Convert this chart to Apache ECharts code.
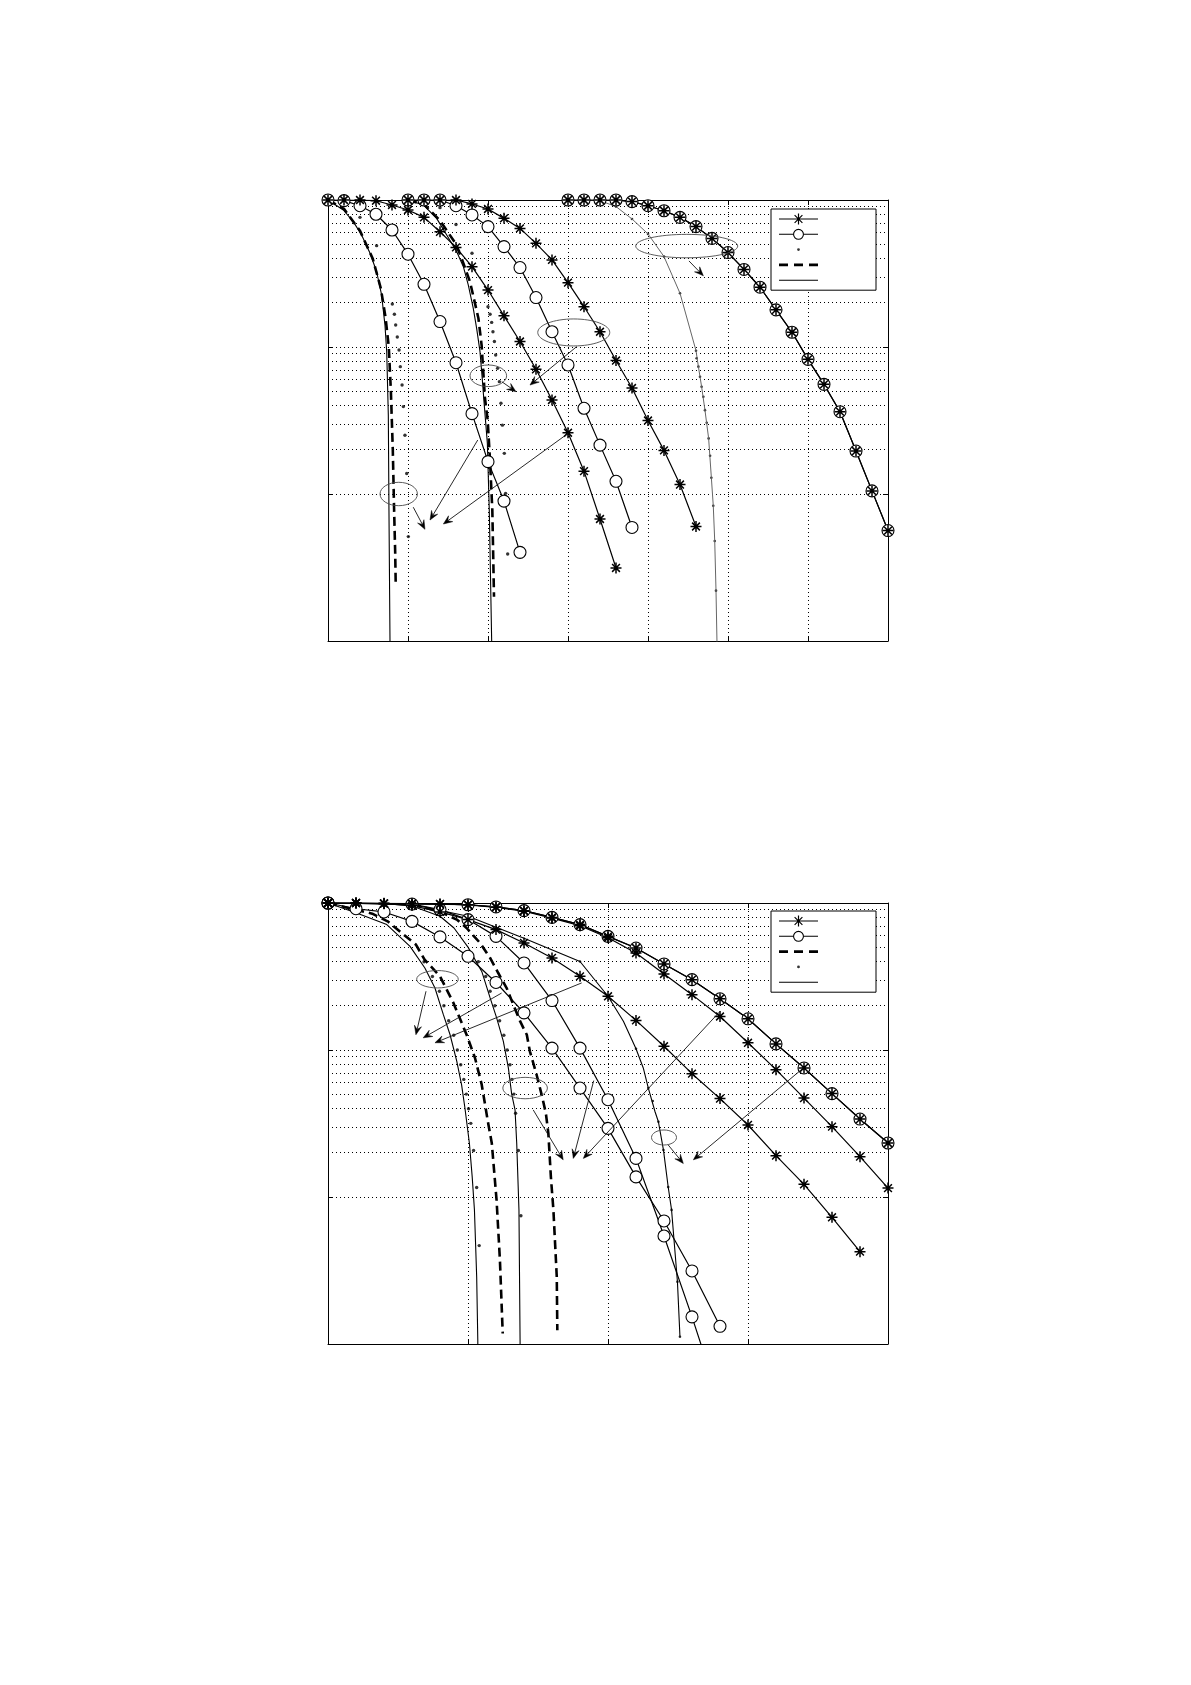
<!DOCTYPE html>
<html><head><meta charset="utf-8">
<script src="https://cdn.jsdelivr.net/npm/echarts@6/dist/echarts.min.js"></script>
<style>html,body{margin:0;padding:0;background:#fff}#c{width:1191px;height:1685px}</style>
</head><body><div id="c"></div>
<script>
// ---------------- data ----------------
// Top panel (x 0..35)
const topStarA = [[0,1],[1,1],[2,1],[3,0.989],[4,0.925],[5,0.855],[6,0.762],[7,0.608],[8,0.476],[9,0.352],[10,0.244],[11,0.163],[12,0.109],[13,0.0705],[14,0.0436],[15,0.0261],[16,0.0143],[17,0.00676],[18,0.00314]];
const topCircA = [[0,1],[1,0.99],[2,0.914],[3,0.80],[4,0.625],[5,0.428],[6,0.267],[7,0.149],[8,0.0782],[9,0.0352],[10,0.0166],[11,0.00895],[12,0.00401]];
const topDotA = [[2,0.762],[3.04,0.489],[4.02,0.196],[4.15,0.167],[4.23,0.141],[4.33,0.117],[4.44,0.0955],[4.52,0.0735],[4.63,0.0551],[4.71,0.0393],[4.81,0.0251],[4.92,0.0138],[5.02,0.00513]];
const topDashA = [[0,1],[1,0.87],[2,0.617],[2.8,0.398],[3.3,0.251],[3.6,0.158],[3.8,0.1],[3.93,0.0501],[4.05,0.02],[4.13,0.00794],[4.2,0.00398],[4.23,0.00252]];
const topSolidA = [[0,1],[0.96,0.855],[1.58,0.713],[2.1,0.578],[2.63,0.434],[3.04,0.325],[3.35,0.226],[3.56,0.141],[3.67,0.0929],[3.77,0.0344],[3.81,0.00778],[3.875,0.001],[3.9,0.0004]];

const topStarB = [[5,1],[6,1],[7,1],[8,1],[9,0.94],[10,0.869],[11,0.75],[12,0.641],[13,0.507],[14,0.391],[15,0.274],[16,0.188],[17,0.127],[18,0.0809],[19,0.0526],[20,0.0316],[21,0.0198],[22,0.0116],[23,0.00601]];
const topCircB = [[5,1],[6,1],[7,1],[8,0.914],[9,0.791],[10,0.659],[11,0.482],[12,0.347],[13,0.217],[14,0.127],[15,0.0755],[16,0.0383],[17,0.0215],[18,0.0122],[19,0.00592]];
const topDotB = [[7,0.887],[8,0.682],[9,0.434],[10,0.188],[10.13,0.167],[10.23,0.147],[10.31,0.127],[10.4,0.109],[10.48,0.0883],[10.6,0.0716],[10.71,0.0581],[10.81,0.0414],[10.9,0.0294],[11.02,0.0189],[11.1,0.0101],[11.23,0.00391]];
const topDashB = [[5,1],[6,0.933],[7,0.724],[8,0.501],[8.35,0.401],[8.875,0.278],[9.4,0.157],[9.6,0.103],[9.81,0.0448],[9.98,0.0318],[10.125,0.017],[10.27,0.00778],[10.375,0.002]];
const topSolidB = [[5,1],[5.96,0.925],[6.79,0.75],[7.42,0.578],[8.04,0.446],[8.46,0.352],[8.77,0.264],[9.08,0.183],[9.29,0.134],[9.5,0.0929],[9.64,0.0612],[9.75,0.0425],[9.96,0.0221],[10.08,0.00778],[10.23,0.001],[10.28,0.0004]];

const topStarC = [[15,1],[16,1],[17,1],[18,1],[19,0.975],[20,0.914],[21,0.845],[22,0.762],[23,0.659],[24,0.548],[25,0.439],[26,0.337],[27,0.255],[28,0.179],[29,0.126],[30,0.0824],[31,0.0557],[32,0.0363],[33,0.0196],[34,0.0105],[35,0.00564]];
const topCircC = [[15,1],[16,1],[17,1],[18,1],[19,0.975],[20,0.914],[21,0.845],[22,0.762],[23,0.659],[24,0.548],[25,0.439],[26,0.337],[27,0.255],[28,0.179],[29,0.126],[30,0.0824],[31,0.0557],[32,0.0363],[33,0.0196],[34,0.0105],[35,0.00564]];
const topSolidC = [[15,1],[16,1],[17,0.99],[18,0.902],[19,0.743],[20,0.588],[21,0.412],[22,0.232],[23,0.0944],[23.15,0.0735],[23.35,0.0537],[23.56,0.0372],[23.79,0.0239],[23.96,0.0129],[24.08,0.00832],[24.17,0.00479],[24.25,0.0022],[24.31,0.001],[24.35,0.0004]];
const topDotC = [[18,0.902],[19,0.743],[20,0.588],[21,0.412],[22,0.232],[23,0.0944],[23.04,0.0838],[23.15,0.0735],[23.25,0.0628],[23.35,0.0537],[23.46,0.0459],[23.56,0.0372],[23.67,0.0305],[23.79,0.0239],[23.88,0.0182],[23.96,0.0129],[24.08,0.00832],[24.17,0.00479],[24.25,0.0022]];

// Bottom panel (x 0..20)
const botStar1 = [[0,1],[1,1],[2,0.993],[3,0.989],[4,0.982],[5,0.973],[6,0.94],[7,0.887],[8,0.798],[9,0.713],[10,0.593],[11,0.494],[12,0.385],[13,0.301],[14,0.223],[15,0.163],[16,0.11],[17,0.0755],[18,0.0505],[19,0.0339],[20,0.0233]];
const botCircTop = [[0,1],[5,0.973],[6,0.94],[7,0.887],[8,0.798],[9,0.713],[10,0.593],[11,0.494],[12,0.385],[13,0.301],[14,0.223],[15,0.163],[16,0.11],[17,0.0755],[18,0.0505],[19,0.0339],[20,0.0233]];
const botStar2 = [[0,1],[1,1],[2,0.995],[3,0.99],[4,0.985],[5,0.97],[6,0.935],[7,0.88],[8,0.79],[9,0.70],[10,0.58],[11,0.457],[12,0.329],[13,0.238],[14,0.169],[15,0.112],[16,0.0735],[17,0.0471],[18,0.0301],[19,0.0188],[20,0.0115]];
const botStar3 = [[0,1],[1,1],[2,0.99],[3,0.96],[4,0.87],[5,0.771],[6,0.659],[7,0.535],[8,0.423],[9,0.317],[10,0.232],[11,0.159],[12,0.106],[13,0.069],[14,0.0467],[15,0.0309],[16,0.0191],[17,0.0122],[18,0.00728],[19,0.00425]];
const botCirc1 = [[0,1],[1,0.914],[2,0.869],[3,0.75],[4,0.588],[5,0.434],[6,0.288],[7,0.179],[8,0.103],[9,0.0551],[10,0.0293],[11,0.0137],[12,0.00687],[13,0.00314],[14,0.00132]];
const botCirc2 = [[0,1],[3,0.984],[4,0.902],[5,0.771],[6,0.593],[7,0.391],[8,0.217],[9,0.103],[10,0.0459],[11,0.0183],[12,0.00543],[13,0.00153],[14,0.0004]];
const botSolid1 = [[0,1],[1.02,0.855],[2.1,0.713],[2.93,0.507],[3.46,0.361],[3.82,0.264],[4.12,0.174],[4.36,0.127],[4.6,0.0837],[4.77,0.0581],[4.89,0.0403],[5.05,0.0232],[5.15,0.0137],[5.23,0.00817],[5.27,0.00484],[5.31,0.00287],[5.35,0.00106],[5.36,0.0004]];
const botDot1 = [[3.43,0.398],[3.73,0.316],[3.98,0.251],[4.14,0.2],[4.31,0.158],[4.49,0.126],[4.62,0.1],[4.74,0.0794],[4.85,0.0631],[4.94,0.0501],[5.02,0.0398],[5.1,0.0317],[5.2,0.0207],[5.31,0.0116],[5.4,0.00467]];
const botDash1 = [[0,1],[1.58,0.846],[2.13,0.75],[3.14,0.521],[3.45,0.412],[4.0,0.317],[4.48,0.209],[4.95,0.127],[5.25,0.0883],[5.49,0.0581],[5.61,0.0425],[5.7,0.0334],[5.85,0.0232],[6.02,0.00955],[6.14,0.00372],[6.24,0.00118]];
const botSolid2 = [[0,1],[2,0.993],[3,0.955],[4,0.813],[4.5,0.676],[5,0.501],[5.5,0.339],[5.79,0.226],[6.02,0.166],[6.26,0.115],[6.44,0.0759],[6.56,0.0501],[6.68,0.0391],[6.74,0.0232],[6.82,0.00817],[6.86,0.00106],[6.87,0.0004]];
const botDot2 = [[5.37,0.398],[5.63,0.316],[5.79,0.251],[5.96,0.2],[6.13,0.158],[6.28,0.126],[6.4,0.1],[6.5,0.0794],[6.57,0.0631],[6.64,0.0501],[6.7,0.0371],[6.8,0.0207],[6.89,0.00746]];
const botDash2 = [[3,0.985],[4,0.871],[4.6,0.771],[4.95,0.676],[5.43,0.535],[5.79,0.423],[6.08,0.334],[6.38,0.264],[6.62,0.203],[6.86,0.157],[7.1,0.127],[7.21,0.098],[7.45,0.0679],[7.63,0.0497],[7.78,0.0372],[7.87,0.0271],[7.96,0.0137],[8.05,0.00817],[8.11,0.00484],[8.17,0.00287],[8.19,0.00124]];
const botSolid3 = [[0,1],[3,0.977],[5,0.813],[7,0.575],[9,0.40],[10,0.232],[10.55,0.157],[11,0.102],[11.26,0.0755],[11.44,0.0551],[11.68,0.038],[11.8,0.0325],[11.98,0.0209],[12.15,0.0117],[12.27,0.00817],[12.48,0.00265],[12.57,0.00112]];
const botDot3 = [[9,0.40],[10,0.232],[11,0.102],[11.44,0.0551],[11.6,0.045],[11.8,0.0325],[11.98,0.0209],[12.15,0.0117],[12.27,0.00817],[12.48,0.00265],[12.57,0.00112]];

// Axis ticks
const topXTicks = [0,5,10,15,20,25,30,35];
const botXTicks = [0,5,10,15,20];
const yMajor = [0.001,0.01,0.1,1];
const yMinor = [0.002,0.003,0.004,0.005,0.006,0.007,0.008,0.009,0.02,0.03,0.04,0.05,0.06,0.07,0.08,0.09,0.2,0.3,0.4,0.5,0.6,0.7,0.8,0.9];

// Annotations (data coordinates)
const topEllipseAt = [[22.42,0.486],[15.36,0.1256],[10.02,0.0637],[4.42,0.01]];
const topArrows = [[[22.56,0.385],[23.46,0.305]],[[15.54,0.1005],[12.625,0.0551]],[[10.86,0.0581],[11.75,0.0497]],[[5.33,0.00813],[6.06,0.00575]],[[9.36,0.0233],[6.375,0.00665]],[[15.02,0.0259],[7.21,0.00625]]];
const botEllipseAt = [[3.91,0.303],[7.04,0.0551],[12.0,0.0254]];
const botArrows = [[[3.5,0.251],[3.14,0.127]],[[6.2,0.244],[3.40,0.121]],[[9.06,0.286],[3.82,0.112]],[[7.33,0.0391],[8.40,0.0179]],[[9.49,0.0619],[8.76,0.0183]],[[14.0,0.183],[9.12,0.0183]],[[12.15,0.0226],[12.69,0.0169]],[[16.98,0.0755],[13.05,0.0179]]];

// ---------------- styles ----------------
const topEllipseR = [[51,11.7],[36,13.5],[18.3,10.8],[18.7,11.7]];
const botEllipseR = [[20.8,8.7],[22.3,10.7],[12.5,7.5]];

const STAR = 'path://M0 5L10 5M5 0L5 10M1.46 1.46L8.54 8.54M8.54 1.46L1.46 8.54';
const ANCH = 'M0 0L0.01 0L0 0.01Z M39 12L38.99 12L39 11.99Z ';
const ICON = {
  star: 'path://' + ANCH + 'M0 5.45H39V6.55H0Z M18.9 0.5H20.1V11.5H18.9Z M15.2 2.5L16 1.7L23.8 9.5L23 10.3Z M23 1.7L23.8 2.5L16 10.3L15.2 9.5Z',
  circle: 'path://' + ANCH + 'M0 5.45H14V6.55H0Z M25 5.45H39V6.55H25Z M14 6A5.5 5.5 0 1 1 25 6A5.5 5.5 0 1 1 14 6Z M15.1 6A4.4 4.4 0 1 0 23.9 6A4.4 4.4 0 1 0 15.1 6Z',
  dot: 'path://' + ANCH + 'M18.1 6A1.4 1.4 0 1 1 20.9 6A1.4 1.4 0 1 1 18.1 6Z',
  dashed: 'path://' + ANCH + 'M0 4.6H9V7.4H0Z M15 4.6H24V7.4H15Z M30 4.6H39V7.4H30Z',
  solid: 'path://' + ANCH + 'M0 5.45H39V6.55H0Z'
};

function ser(kind, data, gi, extra) {
  const ax = gi * 2;
  let s;
  if (kind === 'star') {
    s = {type:'line', symbol: STAR, symbolSize: 11, showSymbol: true,
      lineStyle:{color:'#000', width:1.2}, itemStyle:{color:'#000', borderColor:'#000', borderWidth:1.5}};
  } else if (kind === 'circle') {
    s = {type:'line', symbol:'circle', symbolSize: 12, showSymbol: true,
      lineStyle:{color:'#000', width:1.2}, itemStyle:{color:'#fff', borderColor:'#000', borderWidth:1.1}};
  } else if (kind === 'dot') {
    s = {type:'scatter', symbol:'circle', symbolSize: 3.4, itemStyle:{color:'#000'}};
  } else if (kind === 'dashed') {
    s = {type:'line', symbol:'none', lineStyle:{color:'#000', width:2.6, type:[9,5]}, itemStyle:{color:'#000'}};
  } else {
    s = {type:'line', symbol:'none', lineStyle:{color:'#000', width:1.1}, itemStyle:{color:'#000'}};
  }
  Object.assign(s, {name: kind, data: data, xAxisIndex: ax, yAxisIndex: ax, silent: true, animation: false,
    emphasis: {disabled: true}, clip: true});
  if (extra) {
    if (extra.lineStyle) Object.assign(s.lineStyle, extra.lineStyle);
    if (extra.symbolSize) s.symbolSize = extra.symbolSize;
    if (extra.markLine) s.markLine = extra.markLine;
  }
  return s;
}

const dotted = {type:[1,3], color:'#000', width:1};
const minorLines = {
  silent: true, animation: false, symbol:['none','none'], z: 1,
  label:{show:false}, lineStyle: dotted, emphasis:{disabled:true},
  data: yMinor.map(v => ({yAxis: v}))
};

function axesFor(gi, xmax) {
  const tick = {show:true, inside:true, length:5, lineStyle:{color:'#000'}};
  const xa = [
    {type:'value', gridIndex: gi, min:0, max:xmax, interval:5, position:'bottom',
     axisLine:{show:true, onZero:false, lineStyle:{color:'#000', width:1}}, axisTick: tick,
     axisLabel:{show:false}, splitLine:{show:true, lineStyle: dotted}},
    {type:'value', gridIndex: gi, min:0, max:xmax, interval:5, position:'top',
     axisLine:{show:true, onZero:false, lineStyle:{color:'#000', width:1}}, axisTick: tick,
     axisLabel:{show:false}, splitLine:{show:false}}
  ];
  const ya = [
    {type:'log', logBase:10, gridIndex: gi, min:0.001, max:1, position:'left',
     axisLine:{show:true, onZero:false, lineStyle:{color:'#000', width:1}}, axisTick: tick,
     axisLabel:{show:false}, splitLine:{show:true, lineStyle: dotted}, minorTick:{show:false}},
    {type:'log', logBase:10, gridIndex: gi, min:0.001, max:1, position:'right',
     axisLine:{show:true, onZero:false, lineStyle:{color:'#000', width:1}}, axisTick: tick,
     axisLabel:{show:false}, splitLine:{show:false}}
  ];
  return {xa, ya};
}

const A0 = axesFor(0, 35), A1 = axesFor(1, 20);

const series = [
  // top panel
  ser('solid', topSolidA, 0, {markLine: minorLines}),
  ser('solid', topSolidB, 0),
  ser('solid', topSolidC, 0, {lineStyle:{color:'#666', width:1}}),
  ser('dashed', topDashA, 0),
  ser('dashed', topDashB, 0),
  ser('circle', topCircA, 0),
  ser('circle', topCircB, 0),
  ser('circle', topCircC, 0),
  ser('star', topStarA, 0),
  ser('star', topStarB, 0),
  ser('star', topStarC, 0),
  ser('dot', topDotA, 0),
  ser('dot', topDotB, 0),
  ser('dot', topDotC, 0, {symbolSize: 2.6}),
  // bottom panel
  ser('solid', botSolid1, 1, {markLine: minorLines}),
  ser('solid', botSolid2, 1),
  ser('solid', botSolid3, 1),
  ser('dashed', botDash1, 1),
  ser('dashed', botDash2, 1),
  ser('circle', botCircTop, 1),
  ser('circle', botCirc1, 1),
  ser('circle', botCirc2, 1),
  ser('star', botStar1, 1),
  ser('star', botStar2, 1),
  ser('star', botStar3, 1),
  ser('dot', botDot1, 1),
  ser('dot', botDot2, 1),
  ser('dot', botDot3, 1, {symbolSize: 2.6})
];

function legendAt(top, order) {
  return {
    orient:'vertical', left: 771, top: top,
    data: order.map(n => ({name: n, icon: ICON[n]})),
    itemWidth: 39, itemHeight: 12, itemGap: 1.3,
    padding: [3, 3, 3, 8],
    backgroundColor:'#fff', borderColor:'#000', borderWidth: 1, borderRadius: 0,
    selectedMode: false,
    formatter: () => ' ',
    textStyle: {width: 50, fontSize: 12, lineHeight: 14, color:'#000'},
    itemStyle: {color:'#000', borderWidth: 0},
    z: 10
  };
}

const option = {
  backgroundColor:'#fff',
  animation: false,
  grid: [
    {left: 328, top: 200, width: 560, height: 441, show: false, outerBoundsMode: 'none'},
    {left: 328, top: 903, width: 560, height: 441, show: false, outerBoundsMode: 'none'}
  ],
  xAxis: [...A0.xa, ...A1.xa],
  yAxis: [...A0.ya, ...A1.ya],
  legend: [
    legendAt(209, ['star','circle','dot','dashed','solid']),
    legendAt(911, ['star','circle','dashed','dot','solid'])
  ],
  series: series
};

const chart = echarts.init(document.getElementById('c'), null, {renderer:'canvas'});
chart.setOption(option);

// ---------------- annotations (ellipses + arrows) ----------------
function pix(gi, p) { return chart.convertToPixel({xAxisIndex: gi*2, yAxisIndex: gi*2}, p); }
const els = [];
function addEllipse(gi, at, r) {
  const c = pix(gi, at);
  els.push({type:'ellipse', silent:true, z: 20, shape:{cx:c[0], cy:c[1], rx:r[0], ry:r[1]},
    style:{fill:'none', stroke:'#4a4a4a', lineWidth:0.9}});
}
function addArrow(gi, a, b) {
  const p0 = pix(gi, a), p1 = pix(gi, b);
  const dx = p1[0]-p0[0], dy = p1[1]-p0[1], L = Math.hypot(dx, dy);
  const ux = dx/L, uy = dy/L, nx = -uy, ny = ux;
  const hl = 9, hw = 3.6;
  const bx = p1[0]-ux*hl, by = p1[1]-uy*hl;
  const ix = p1[0]-ux*hl*0.6, iy = p1[1]-uy*hl*0.6;
  els.push({type:'line', silent:true, z: 20, shape:{x1:p0[0], y1:p0[1], x2:ix, y2:iy},
    style:{stroke:'#111', lineWidth:0.9}});
  els.push({type:'polygon', silent:true, z: 20,
    shape:{points:[[p1[0],p1[1]],[bx+nx*hw, by+ny*hw],[ix,iy],[bx-nx*hw, by-ny*hw]]},
    style:{fill:'#000', stroke:'#000', lineWidth:0.5}});
}
topEllipseAt.forEach((e, k) => addEllipse(0, e, topEllipseR[k]));
botEllipseAt.forEach((e, k) => addEllipse(1, e, botEllipseR[k]));
topArrows.forEach(a => addArrow(0, a[0], a[1]));
botArrows.forEach(a => addArrow(1, a[0], a[1]));
chart.setOption({graphic: els});
</script></body></html>
